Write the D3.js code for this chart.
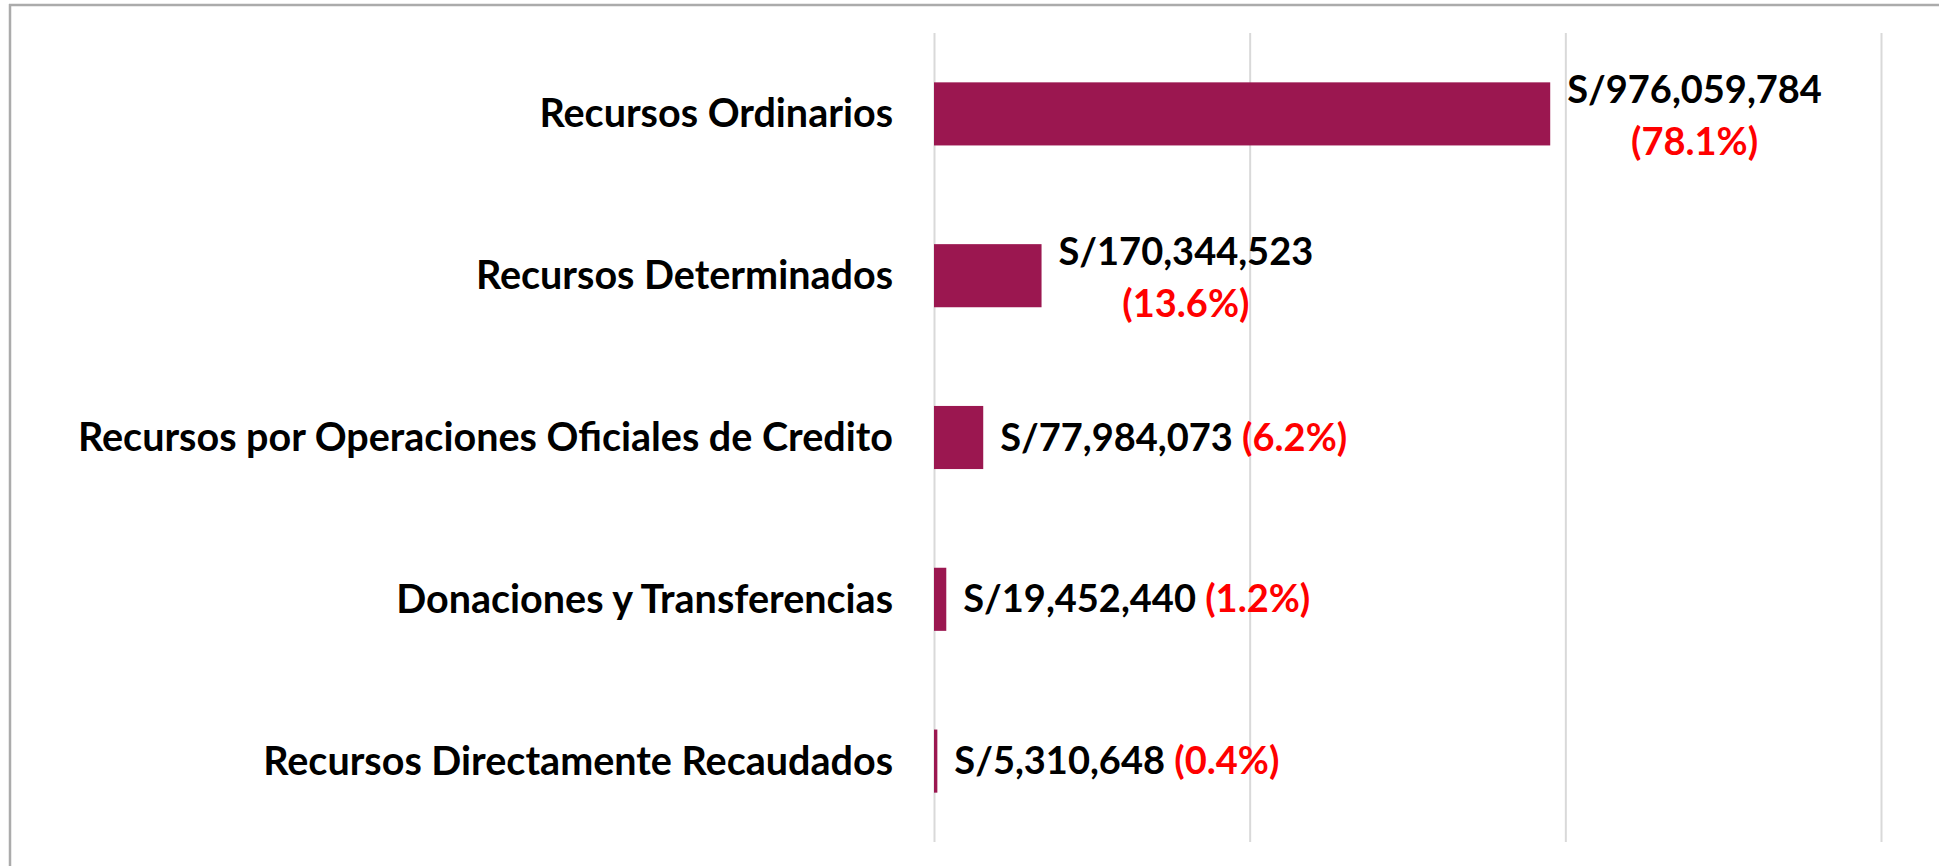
<!DOCTYPE html>
<html>
<head>
<meta charset="utf-8">
<script src="https://cdn.jsdelivr.net/npm/d3@7/dist/d3.min.js"></script>
<style>
  html, body { margin: 0; padding: 0; background: #ffffff; }
  svg { display: block; }
</style>
</head>
<body>
<svg id="chart" width="1939" height="866"></svg>
<script>
// ---- data ----
const categories = [
  "Recursos Ordinarios",
  "Recursos Determinados",
  "Recursos por Operaciones Oficiales de Credito",
  "Donaciones y Transferencias",
  "Recursos Directamente Recaudados"
];
const amounts = [976059784, 170344523, 77984073, 19452440, 5310648];
const shares = [78.1, 13.6, 6.2, 1.2, 0.4];
const xTicks = [0, 500000000, 1000000000, 1500000000];

// ---- layout ----
const W = 1939, H = 866;
const margin = { left: 934, right: 58, top: 33, bottom: 24 };
const svg = d3.select("#chart");
const FONT = "Lato, 'Open Sans', sans-serif";
const fsCat = 39.5;
const fs = 38;

// frame
svg.append("line").attr("x1", 9).attr("x2", W).attr("y1", 5).attr("y2", 5)
  .attr("stroke", "#ababab").attr("stroke-width", 2.5);
svg.append("line").attr("x1", 10).attr("x2", 10).attr("y1", 4).attr("y2", H)
  .attr("stroke", "#ababab").attr("stroke-width", 2.5);

const x = d3.scaleLinear().domain([0, 1500000000]).range([margin.left, W - margin.right]);
const y = d3.scaleBand().domain(categories).range([margin.top, H - margin.bottom])
  .paddingInner(0.61).paddingOuter(0.305);

// gridlines via axis
const gAxis = svg.append("g").attr("transform", `translate(0,${margin.top})`)
  .call(d3.axisBottom(x).tickValues(xTicks).tickSize(H - margin.bottom - margin.top).tickFormat(""));
gAxis.select(".domain").remove();
gAxis.selectAll(".tick line").attr("stroke", "#d9d9d9").attr("stroke-width", 2);

// bars
svg.append("g").selectAll("rect").data(categories).join("rect")
  .attr("x", x(0))
  .attr("y", d => y(d))
  .attr("width", (d, i) => x(amounts[i]) - x(0))
  .attr("height", y.bandwidth())
  .attr("fill", "#9b1750");

// category labels
svg.append("g").selectAll("text").data(categories).join("text")
  .attr("x", x(0) - 41)
  .attr("y", d => y(d) + y.bandwidth() / 2 + 13.5)
  .attr("text-anchor", "end")
  .attr("font-family", FONT).attr("font-weight", "bold").attr("font-size", fsCat)
  .attr("fill", "#000")
  .text(d => d);

// value labels
const fmt = d3.format(",");
categories.forEach((c, i) => {
  const amt = "S/" + fmt(amounts[i]);
  const pct = "(" + shares[i].toFixed(1) + "%)";
  const cy = y(c) + y.bandwidth() / 2;
  const x0 = x(amounts[i]) + 17;
  if (amt.length >= 13) {
    const t1 = svg.append("text")
      .attr("x", x0).attr("y", cy - 11)
      .attr("font-family", FONT).attr("font-weight", "bold").attr("font-size", fs)
      .attr("fill", "#000").text(amt);
    const w = t1.node().getComputedTextLength();
    svg.append("text")
      .attr("x", x0 + w / 2).attr("y", cy + 41.5)
      .attr("text-anchor", "middle")
      .attr("font-family", FONT).attr("font-weight", "bold").attr("font-size", fs)
      .attr("fill", "#ff0000").text(pct);
  } else {
    const t = svg.append("text")
      .attr("x", x0).attr("y", cy + 13)
      .attr("font-family", FONT).attr("font-weight", "bold").attr("font-size", fs);
    t.append("tspan").attr("fill", "#000").text(amt + " ");
    t.append("tspan").attr("fill", "#ff0000").text(pct);
  }
});
</script>
</body>
</html>
